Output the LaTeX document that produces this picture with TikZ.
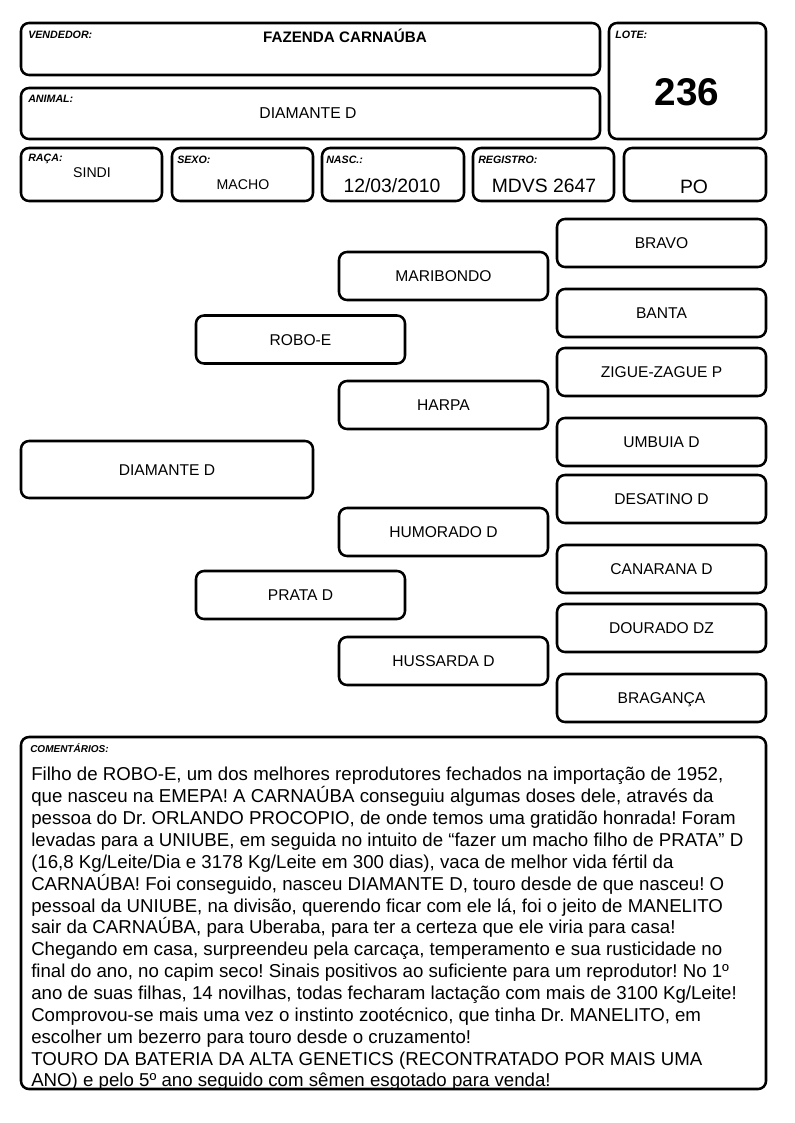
\documentclass[tikz,border=0pt]{standalone}
\usepackage{fontspec}
\setmainfont{Liberation Sans}
\usetikzlibrary{fit,positioning}
\frenchspacing

\begin{document}
\begin{tikzpicture}[x=0.75pt,y=-0.75pt,
  campo/.style={draw,line width=1.9pt,rounded corners=6pt,inner sep=0pt},
  rotulo/.style={anchor=base west,inner sep=0pt,font=\fontsize{8}{9}\selectfont\bfseries\itshape},
  valor/.style={anchor=base,inner sep=0pt,font=\fontsize{14.5}{16}\selectfont},
  nome/.style={campo,minimum width=156.75pt,minimum height=36pt,
    text height=8.4pt,text depth=0pt,font=\fontsize{11.7}{14}\selectfont}]
\useasboundingbox (0,0) rectangle (794,1123);

% cabecalho
\node[campo,fit={(21,23) (600,75)}] (vendedor) {};
\node[campo,fit={(609,23) (766,139)}] (lote) {};
\node[campo,fit={(21,88) (600,139)}] (animal) {};
\node[campo,fit={(21,148) (162,201)}] (raca) {};
\node[campo,fit={(172,148) (313,201)}] (sexo) {};
\node[campo,fit={(322,148) (464,201)}] (nasc) {};
\node[campo,fit={(473,148) (614,201)}] (registro) {};
\node[campo,fit={(624,148) (766,201)}] (po) {};

\node[rotulo] at (28,39) {VENDEDOR:};
\node[rotulo] at (615,39) {LOTE:};
\node[rotulo] at (28,103) {ANIMAL:};
\node[rotulo] at (28,162) {RAÇA:};
\node[rotulo] at (177,164) {SEXO:};
\node[rotulo] at (326,164) {NASC.:};
\node[rotulo] at (478,164) {REGISTRO:};

\node[valor,font=\fontsize{11.4}{13}\selectfont\bfseries] at (345,43) {FAZENDA CARNAÚBA};
\node[valor,font=\fontsize{11.8}{13}\selectfont] at (308,119) {DIAMANTE D};
\node[valor,font=\fontsize{29}{32}\selectfont\bfseries] at (687,106) {236};
\node[valor,font=\fontsize{10.6}{12}\selectfont] at (92,178) {SINDI};
\node[valor,font=\fontsize{10.6}{12}\selectfont] at (243,190) {MACHO};
\node[valor] at (392,193) {12/03/2010};
\node[valor] at (544,193) {MDVS 2647};
\node[valor] at (694,194) {PO};

% genealogia
\node[nome,minimum width=219pt,minimum height=42.75pt] (diamante) at (167,469.5) {DIAMANTE D};
\node[nome] (robo) at (300.5,339.5) {ROBO-E};
\node[nome] (prata) at (300.5,595) {PRATA D};
\node[nome] (maribondo) at (443.5,276) {MARIBONDO};
\node[nome] (harpa) at (443.5,405) {HARPA};
\node[nome] (humorado) at (443.5,532) {HUMORADO D};
\node[nome] (hussarda) at (443.5,661) {HUSSARDA D};
\node[nome] (bravo) at (661.5,243) {BRAVO};
\node[nome] (banta) at (661.5,313) {BANTA};
\node[nome] (zigue) at (661.5,372) {ZIGUE-ZAGUE P};
\node[nome] (umbuia) at (661.5,442) {UMBUIA D};
\node[nome] (desatino) at (661.5,499) {DESATINO D};
\node[nome] (canarana) at (661.5,569) {CANARANA D};
\node[nome] (dourado) at (661.5,628) {DOURADO DZ};
\node[nome] (braganca) at (661.5,698) {BRAGANÇA};

% comentarios
\node[campo,fit={(21,737) (766,1089)}] (comentarios) {};
\node[rotulo,font=\fontsize{7.5}{9}\selectfont\bfseries\itshape] at (30,752) {COMENTÁRIOS:};
\node[anchor=north west,inner sep=0pt,align=left,font=\fontsize{14}{16.4}\selectfont] (texto) at (31,767) {%
Filho de ROBO-E, um dos melhores reprodutores fechados na importação de 1952,\\
que nasceu na EMEPA! A CARNAÚBA conseguiu algumas doses dele, através da\\
pessoa do Dr. ORLANDO PROCOPIO, de onde temos uma gratidão honrada! Foram\\
levadas para a UNIUBE, em seguida no intuito de “fazer um macho filho de PRATA” D\\
(16,8 Kg/Leite/Dia e 3178 Kg/Leite em 300 dias), vaca de melhor vida fértil da\\
CARNAÚBA! Foi conseguido, nasceu DIAMANTE D, touro desde de que nasceu! O\\
pessoal da UNIUBE, na divisão, querendo ficar com ele lá, foi o jeito de MANELITO\\
sair da CARNAÚBA, para Uberaba, para ter a certeza que ele viria para casa!\\
Chegando em casa, surpreendeu pela carcaça, temperamento e sua rusticidade no\\
final do ano, no capim seco! Sinais positivos ao suficiente para um reprodutor! No 1º\\
ano de suas filhas, 14 novilhas, todas fecharam lactação com mais de 3100 Kg/Leite!\\
Comprovou-se mais uma vez o instinto zootécnico, que tinha Dr. MANELITO, em\\
escolher um bezerro para touro desde o cruzamento!\\
TOURO DA BATERIA DA ALTA GENETICS (RECONTRATADO POR MAIS UMA\\
ANO) e pelo 5º ano seguido com sêmen esgotado para venda!};
\end{tikzpicture}
\end{document}
